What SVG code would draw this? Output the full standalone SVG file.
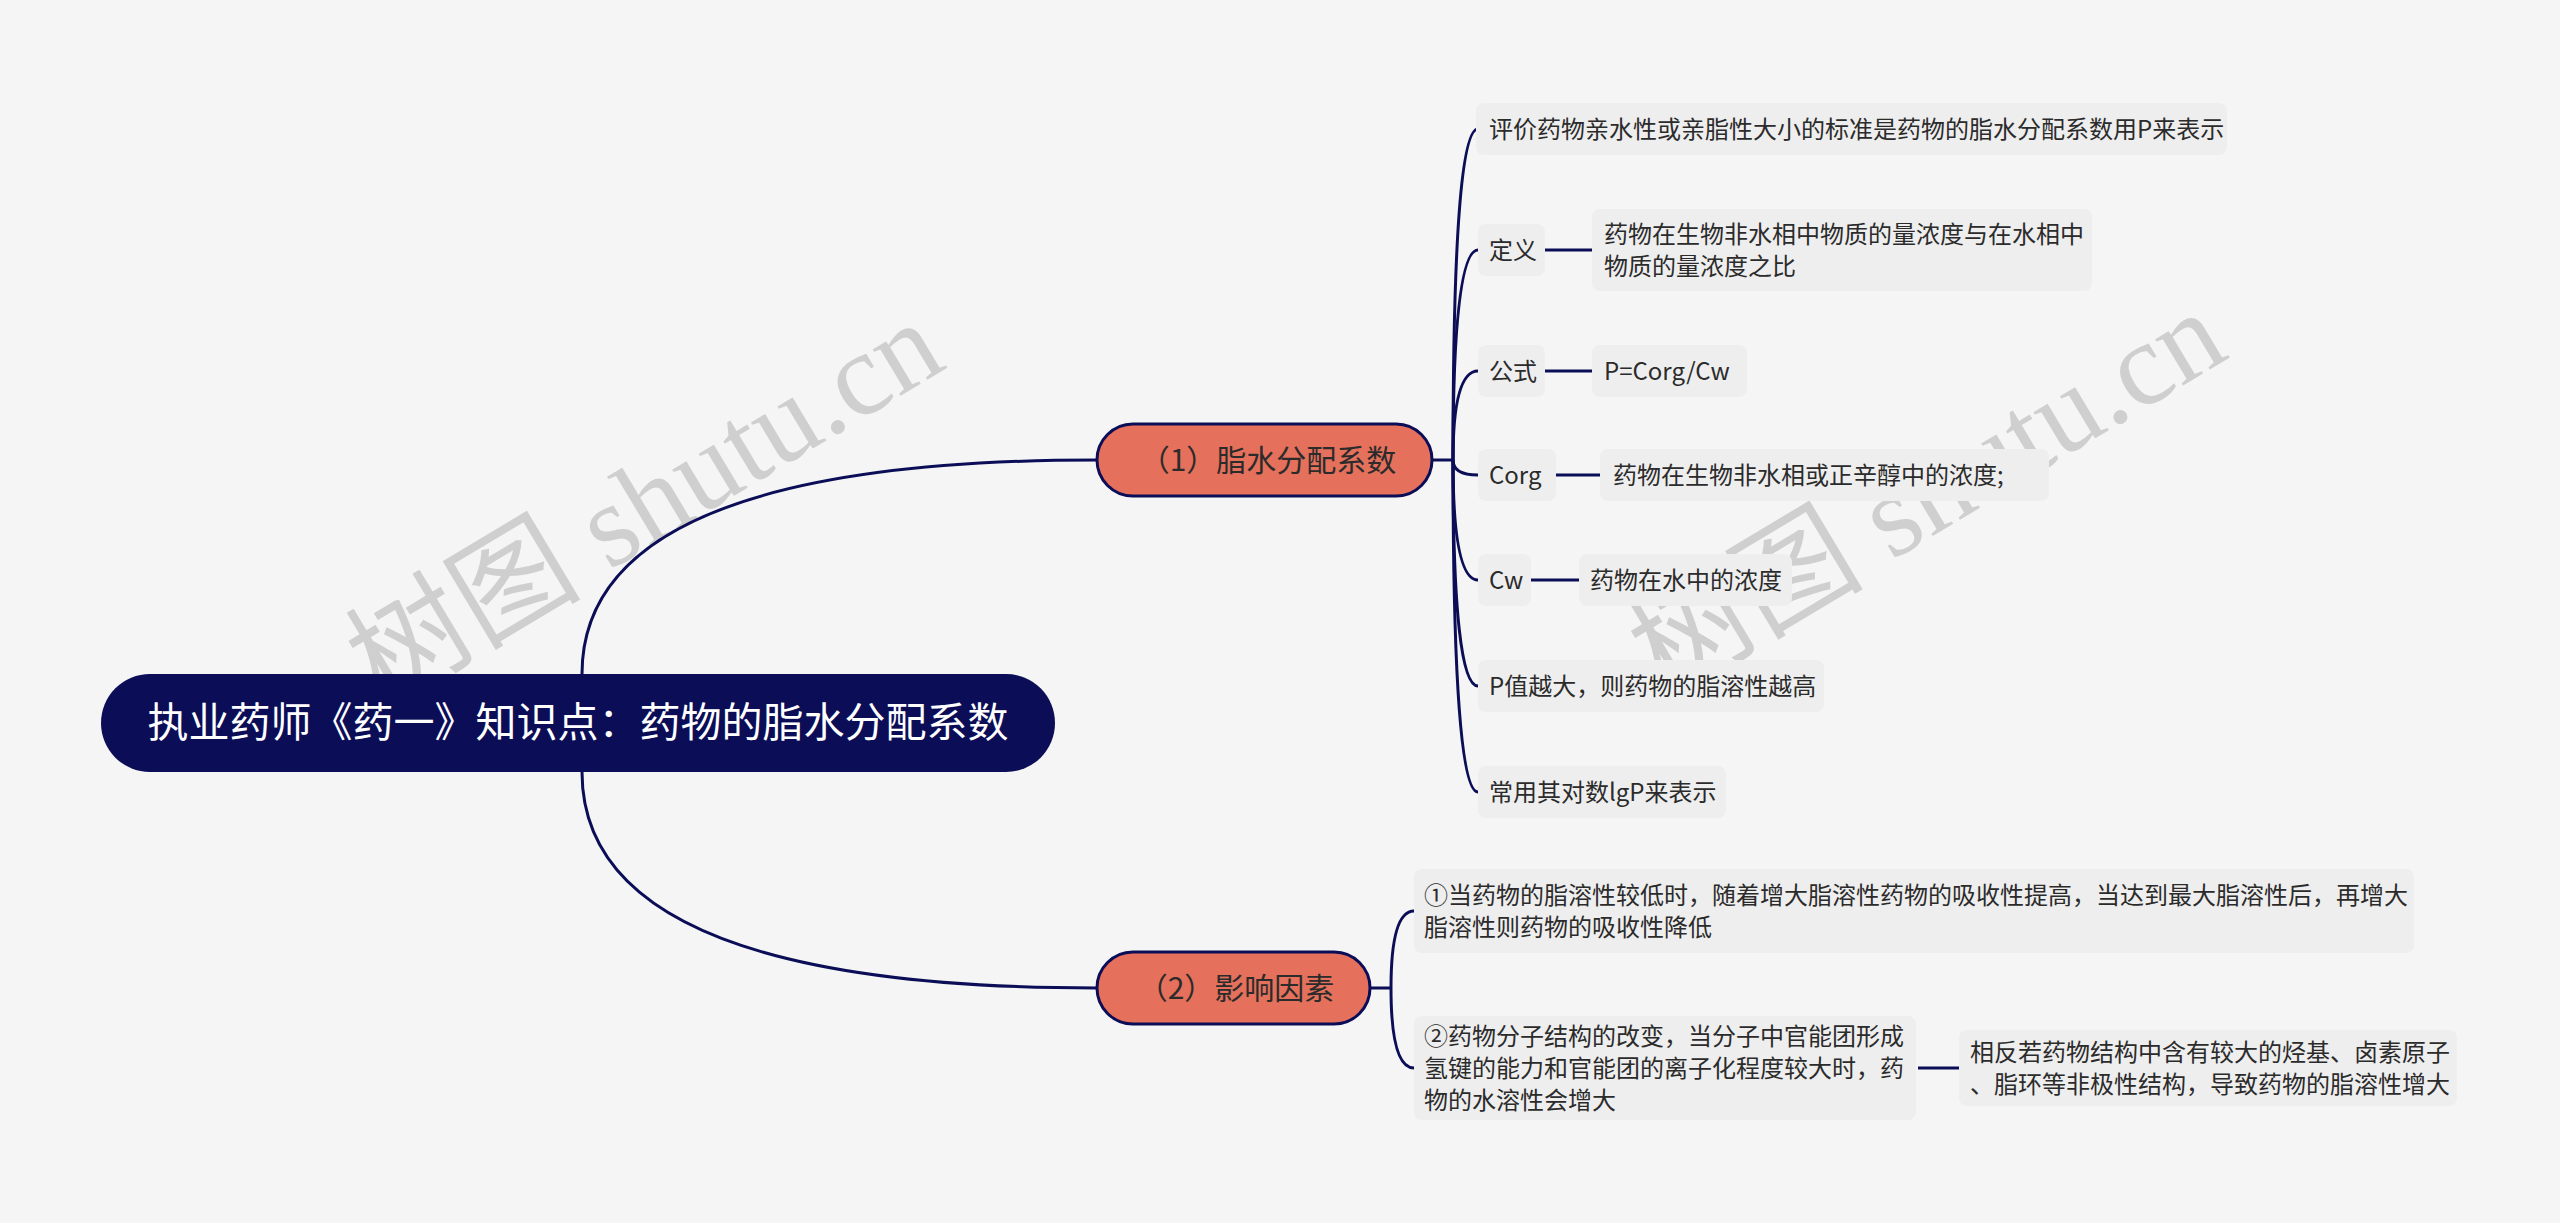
<svg xmlns="http://www.w3.org/2000/svg" width="2560" height="1223" viewBox="0 0 2560 1223">
<style>
.bg{fill:#F5F5F5}
.wm{font-family:"Liberation Serif","Noto Sans CJK SC",serif;font-size:118px;fill:#CFCFCF}
.root rect{fill:#0B0E57}
.root text{fill:#FFFFFF;font-family:"Noto Sans CJK SC",sans-serif;font-size:41px}
.main rect{fill:#E5705B;stroke:#0B0E57;stroke-width:3}
.main text{fill:#2B2B2B;font-family:"Noto Sans CJK SC",sans-serif;font-size:30px}
.leaf rect{fill:#EEEEEE}
.leaf text{fill:#2B2B2B;font-family:"Noto Sans CJK SC",sans-serif;font-size:24px}
.conn path{fill:none;stroke:#0B0E57;stroke-width:3}
</style>
<rect class="bg" x="0" y="0" width="2560" height="1223"/>
<g id="watermarks">
<text class="wm" x="648" y="542" text-anchor="middle" transform="rotate(-31 648 509)">树图 shutu.cn</text>
<text class="wm" x="1930" y="532" text-anchor="middle" transform="rotate(-31 1930 498)">树图 shutu.cn</text>
</g>
<g id="connectors" class="conn">
<path d="M582 674 Q582 460 1097 460"/>
<path d="M582 772 Q582 988 1097 988"/>
<path d="M1432 460 L1453 460"/>
<path d="M1453 460 Q1453 129 1478 129"/>
<path d="M1453 460 Q1453 250 1478 250"/>
<path d="M1453 460 Q1453 371 1478 371"/>
<path d="M1453 460 Q1453 475 1478 475"/>
<path d="M1453 460 Q1453 580 1478 580"/>
<path d="M1453 460 Q1453 686 1478 686"/>
<path d="M1453 460 Q1453 792 1478 792"/>
<path d="M1545 250 L1592 250"/>
<path d="M1545 371 L1592 371"/>
<path d="M1556 475 L1600 475"/>
<path d="M1531 580 L1579 580"/>
<path d="M1370 988 L1391 988"/>
<path d="M1391 988 Q1391 911 1414 911"/>
<path d="M1391 988 Q1391 1068 1414 1068"/>
<path d="M1918 1068 L1959 1068"/>
</g>
<g id="root" class="root">
<rect x="101" y="674" width="954" height="98" rx="49"/>
<text x="578" y="737" text-anchor="middle">执业药师《药一》知识点：药物的脂水分配系数</text>
</g>
<g id="n1" class="main">
<rect x="1097" y="424" width="335" height="72" rx="36"/>
<text x="1268" y="471" text-anchor="middle">（1）脂水分配系数</text>
</g>
<g id="n2" class="main">
<rect x="1097" y="952" width="273" height="72" rx="36"/>
<text x="1236" y="999" text-anchor="middle">（2）影响因素</text>
</g>
<g id="n1a" class="leaf">
<rect x="1476" y="103" width="751" height="52" rx="8"/>
<text x="1489" y="137.5">评价药物亲水性或亲脂性大小的标准是药物的脂水分配系数用P来表示</text>
</g>
<g id="n1b" class="leaf">
<rect x="1478" y="224" width="67" height="52" rx="8"/>
<text x="1489" y="258.5">定义</text>
</g>
<g id="n1b1" class="leaf">
<rect x="1592" y="209" width="500" height="82" rx="8"/>
<text x="1604" y="242.5">药物在生物非水相中物质的量浓度与在水相中</text>
<text x="1604" y="274.5">物质的量浓度之比</text>
</g>
<g id="n1c" class="leaf">
<rect x="1478" y="345" width="67" height="52" rx="8"/>
<text x="1489" y="379.5">公式</text>
</g>
<g id="n1c1" class="leaf">
<rect x="1592" y="345" width="155" height="52" rx="8"/>
<text x="1604" y="379.5">P=Corg/Cw</text>
</g>
<g id="n1d" class="leaf">
<rect x="1478" y="449" width="78" height="52" rx="8"/>
<text x="1489" y="483.5">Corg</text>
</g>
<g id="n1d1" class="leaf">
<rect x="1600" y="449" width="449" height="52" rx="8"/>
<text x="1613" y="483.5">药物在生物非水相或正辛醇中的浓度;</text>
</g>
<g id="n1e" class="leaf">
<rect x="1478" y="554" width="53" height="52" rx="8"/>
<text x="1489" y="588.5">Cw</text>
</g>
<g id="n1e1" class="leaf">
<rect x="1579" y="554" width="213" height="52" rx="8"/>
<text x="1590" y="588.5">药物在水中的浓度</text>
</g>
<g id="n1f" class="leaf">
<rect x="1478" y="660" width="346" height="52" rx="8"/>
<text x="1489" y="694.5">P值越大，则药物的脂溶性越高</text>
</g>
<g id="n1g" class="leaf">
<rect x="1478" y="766" width="248" height="52" rx="8"/>
<text x="1489" y="800.5">常用其对数lgP来表示</text>
</g>
<g id="n2a" class="leaf">
<rect x="1414" y="869" width="1000" height="84" rx="8"/>
<text x="1424" y="903.5">①当药物的脂溶性较低时，随着增大脂溶性药物的吸收性提高，当达到最大脂溶性后，再增大</text>
<text x="1424" y="935.5">脂溶性则药物的吸收性降低</text>
</g>
<g id="n2b" class="leaf">
<rect x="1414" y="1016" width="502" height="104" rx="8"/>
<text x="1424" y="1044.5">②药物分子结构的改变，当分子中官能团形成</text>
<text x="1424" y="1076.5">氢键的能力和官能团的离子化程度较大时，药</text>
<text x="1424" y="1108.5">物的水溶性会增大</text>
</g>
<g id="n2b1" class="leaf">
<rect x="1959" y="1030" width="498" height="76" rx="8"/>
<text x="1970" y="1060.5">相反若药物结构中含有较大的烃基、卤素原子</text>
<text x="1970" y="1092.5">、脂环等非极性结构，导致药物的脂溶性增大</text>
</g>
</svg>
